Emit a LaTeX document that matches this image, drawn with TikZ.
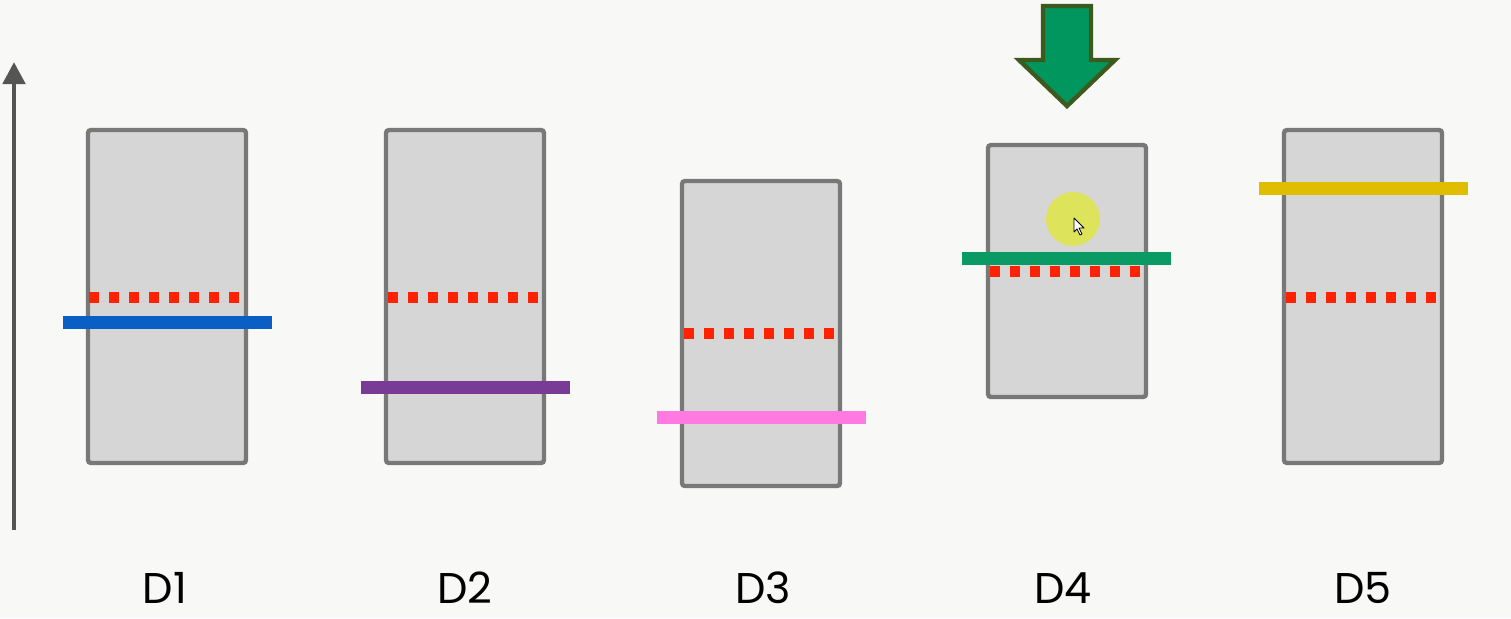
\documentclass[tikz,border=0pt]{standalone}
\usepackage{fontspec}
\setmainfont{Poppins}
\usepackage{xcolor}
\usepackage{tikz}
\usetikzlibrary{arrows.meta, positioning}
\definecolor{pagebg}{RGB}{248, 248, 246}
\definecolor{boxfill}{RGB}{214, 214, 214}
\definecolor{boxedge}{RGB}{120, 120, 120}
\definecolor{axisgray}{RGB}{85, 85, 85}
\definecolor{dotred}{RGB}{255, 34, 0}
\definecolor{barblue}{RGB}{10, 95, 196}
\definecolor{barpurple}{RGB}{122, 59, 150}
\definecolor{barpink}{RGB}{255, 122, 224}
\definecolor{bargreen}{RGB}{10, 154, 100}
\definecolor{baryellow}{RGB}{224, 189, 0}
\definecolor{arrowgreen}{RGB}{0, 150, 94}
\definecolor{arrowedge}{RGB}{61, 90, 30}
\definecolor{spotyellow}{RGB}{221, 227, 90}

\begin{document}
\begin{tikzpicture}[x=0.5pt, y=-0.5pt,
    slab/.style={draw=boxedge, fill=boxfill, line width=2.2pt, rounded corners=1.5pt},
    midline/.style={dotred, line width=5.5pt, dash pattern=on 5pt off 5pt},
    level/.style={line width=6.5pt},
    dlabel/.style={font=\fontsize{21.5}{24}\selectfont, text=black}]
\useasboundingbox[fill=pagebg] (0,0) rectangle (1511,618);

% vertical axis
\draw[axisgray, line width=2.4pt, -{Triangle[length=11pt, width=11pt]}] (14,530) -- (14,62);

% D1
\draw[slab] (88,130) rectangle (246,463);
\draw[midline] (89,297) -- (239,297);
\draw[level, barblue] (63,322) -- (272,322);
\node[dlabel] (d1) at (165,588) {D1};

% D2
\draw[slab] (386,130) rectangle (544,463);
\draw[midline] (388,297) -- (538,297);
\draw[level, barpurple] (361,387) -- (570,387);
\node[dlabel] (d2) at (465,588) {D2};

% D3
\draw[slab] (682,181) rectangle (840,486);
\draw[midline] (684,333) -- (834,333);
\draw[level, barpink] (657,417) -- (866,417);
\node[dlabel] (d3) at (763,588) {D3};

% D4 (selected)
\draw[slab] (988,145) rectangle (1146,397);
\draw[midline] (990,271) -- (1140,271);
\draw[level, bargreen] (962,258) -- (1171,258);
\node[dlabel] (d4) at (1063,588) {D4};

% pointer highlight and cursor
\fill[spotyellow] (1073,219) circle (27);
\draw[black, line width=0.4pt, fill=white, line join=round]
    (1074,218) -- (1074,232) -- (1077,229) -- (1080,235) -- (1082,234)
    -- (1079,228) -- (1084,228) -- cycle;

% big arrow marking D4
\draw[arrowedge, fill=arrowgreen, line width=2.2pt, line join=miter]
    (1043,6) -- (1091,6) -- (1091,60) -- (1115,60) -- (1067,106)
    -- (1019,60) -- (1043,60) -- cycle;

% D5
\draw[slab] (1284,130) rectangle (1442,463);
\draw[midline] (1286,297) -- (1436,297);
\draw[level, baryellow] (1259,188) -- (1468,188);
\node[dlabel] (d5) at (1363,588) {D5};
\end{tikzpicture}
\end{document}
